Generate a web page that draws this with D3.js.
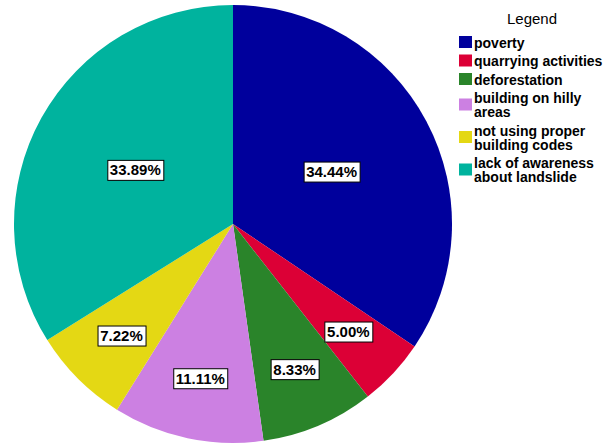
<!DOCTYPE html>
<html>
<head>
<meta charset="utf-8">
<script src="https://cdn.jsdelivr.net/npm/d3@7/dist/d3.min.js"></script>
<style>
  body { margin: 0; background: #fff; }
  text { font-family: Arial, "Liberation Sans", sans-serif; }
</style>
</head>
<body>
<svg></svg>
<script>
const width = 607;
const height = 444;

// data
const categories = ['poverty', 'quarrying activities', 'deforestation',
  'building on hilly areas', 'not using proper building codes',
  'lack of awareness about landslide'];
const percents = [34.44, 5.00, 8.33, 11.11, 7.22, 33.89];
const colors = ['#00009c', '#dc0036', '#2a842a', '#cc80e2', '#e4d814', '#00b39e'];

const cx = 233, cy = 224, radius = 219;

const svg = d3.select('svg')
  .attr('width', width)
  .attr('height', height);

const data = categories.map((c, i) => ({ name: c, value: percents[i], color: colors[i] }));

const pie = d3.pie()
  .value(d => d.value)
  .sort(null);

const arcs = pie(data);
const arc = d3.arc().innerRadius(0).outerRadius(radius);

const g = svg.append('g').attr('transform', `translate(${cx},${cy})`);

g.selectAll('path.slice')
  .data(arcs)
  .enter()
  .append('path')
    .classed('slice', true)
    .attr('d', arc)
    .style('fill', d => d.data.color);

// labels: big slices closer to the centre, small ones further out
const labels = g.selectAll('g.label')
  .data(arcs)
  .enter()
  .append('g')
    .classed('label', true)
    .attr('transform', d => {
      const r = d.data.value >= 20 ? radius * 0.51 : radius * 0.72;
      const a = (d.startAngle + d.endAngle) / 2;
      return `translate(${r * Math.sin(a)},${-r * Math.cos(a)})`;
    });

labels.append('rect')
  .style('fill', '#fff')
  .style('stroke', '#000')
  .style('stroke-width', 1);

labels.append('text')
  .attr('text-anchor', 'middle')
  .attr('y', 5.5)
  .style('font-size', '15px')
  .style('font-weight', 'bold')
  .text(d => d.data.value.toFixed(2) + '%');

labels.each(function() {
  const t = d3.select(this).select('text').node();
  const w = t.getComputedTextLength() + 5;
  d3.select(this).select('rect')
    .attr('x', Math.round(-w / 2) + 0.5)
    .attr('y', -9.5)
    .attr('width', Math.round(w))
    .attr('height', 20);
});

// legend
const legend = svg.append('g');
legend.append('text')
  .attr('x', 532)
  .attr('y', 24)
  .attr('text-anchor', 'middle')
  .style('font-size', '15px')
  .text('Legend');

const maxW = 132;
const lineH = 14;
let baseline = 47.5;

data.forEach(d => {
  const t = legend.append('text')
    .attr('x', 474)
    .style('font-size', '14px')
    .style('font-weight', 'bold');
  // wrap words into lines
  const words = d.name.split(' ');
  let lines = [];
  let cur = [];
  const probe = t.append('tspan');
  words.forEach(w => {
    cur.push(w);
    probe.text(cur.join(' '));
    if (probe.node().getComputedTextLength() > maxW && cur.length > 1) {
      cur.pop();
      lines.push(cur.join(' '));
      cur = [w];
    }
  });
  lines.push(cur.join(' '));
  probe.remove();

  lines.forEach((l, i) => {
    t.append('tspan')
      .attr('x', 474)
      .attr('y', baseline + i * lineH)
      .text(l);
  });
  const last = baseline + (lines.length - 1) * lineH;
  const mid = (baseline + last) / 2 - 5.5;
  legend.append('rect')
    .attr('x', 459)
    .attr('y', mid - 6)
    .attr('width', 13)
    .attr('height', 12)
    .style('fill', d.color);
  baseline = last + 18.5;
});
</script>
</body>
</html>
